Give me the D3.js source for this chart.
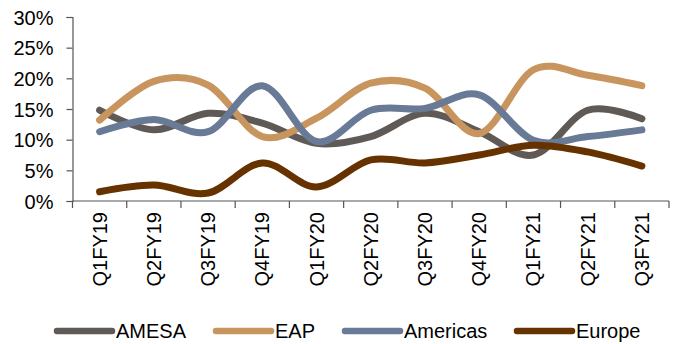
<!DOCTYPE html>
<html><head><meta charset="utf-8">
<script src="https://cdn.jsdelivr.net/npm/d3@7/dist/d3.min.js"></script>
<style>body{margin:0;background:#fff}svg{display:block}text{font-family:"Liberation Sans",Arial,sans-serif}</style>
</head><body><svg id="c" width="683" height="344"></svg>
<script>
const categories = ["Q1FY19","Q2FY19","Q3FY19","Q4FY19","Q1FY20","Q2FY20","Q3FY20","Q4FY20","Q1FY21","Q2FY21","Q3FY21"];
const amesa    = [14.8, 11.6, 14.3, 12.7, 9.4, 10.5, 14.3, 11.3, 7.5, 14.8, 13.4];
const eap      = [13.2, 19.5, 18.9, 10.5, 13.5, 19.2, 18.4, 11.0, 21.4, 20.5, 18.8];
const americas = [11.3, 13.3, 11.3, 18.8, 9.7, 14.8, 15.1, 17.3, 9.9, 10.5, 11.6];
const europe   = [1.5, 2.6, 1.3, 6.2, 2.3, 6.7, 6.2, 7.5, 9.1, 8.0, 5.7];
const seriesNames = ["AMESA","EAP","Americas","Europe"];
const yTicks = [0,5,10,15,20,25,30];

const colors = ["#605a56","#c9955f","#687a96","#663300"];
const seriesData = [amesa, eap, americas, europe];

const svg = d3.select("#c");
const x = d3.scalePoint().domain(categories).range([72.5, 669]).padding(0.5);
const y = d3.scaleLinear().domain([0,30]).range([201,17]);

// Y axis
const yAxis = svg.append("g").attr("transform","translate(72.5,0)")
  .call(d3.axisLeft(y).tickValues(yTicks).tickFormat(d=>d+"%").tickSize(6).tickPadding(13));
yAxis.selectAll("text").attr("font-size",20).attr("fill","#000").attr("dy","0.35em");
yAxis.selectAll("line,path").attr("stroke","#555").attr("stroke-width",1.2);

// X axis with band ticks
const step = x.step();
const xAxisG = svg.append("g").attr("transform","translate(0,201)");
xAxisG.append("line").attr("x1",72.5).attr("x2",669).attr("stroke","#555").attr("stroke-width",1.2);
const bounds = d3.range(categories.length+1).map(i=>72.5+i*step);
xAxisG.selectAll("line.t").data(bounds).join("line").attr("class","t")
  .attr("x1",d=>d).attr("x2",d=>d).attr("y1",0).attr("y2",7).attr("stroke","#555").attr("stroke-width",1.2);
xAxisG.selectAll("text").data(categories).join("text")
  .attr("transform",d=>`translate(${x(d)},11) rotate(-90)`)
  .attr("text-anchor","end").attr("dy","0.35em").attr("font-size",20).attr("fill","#000")
  .text(d=>d);

// Lines
const line = d3.line().x((d,i)=>x(categories[i])).y(d=>y(d)).curve(d3.curveCardinal.tension(0));
svg.append("g").selectAll("path").data(seriesData).join("path")
  .attr("d",d=>line(d)).attr("fill","none")
  .attr("stroke",(d,i)=>colors[i]).attr("stroke-width",7).attr("stroke-linecap","round").attr("stroke-linejoin","round");

// Legend
const legendX = [57, 216, 345, 517];
const lg = svg.append("g");
seriesNames.forEach((n,i)=>{
  lg.append("line").attr("x1",legendX[i]).attr("x2",legendX[i]+55).attr("y1",331).attr("y2",331)
    .attr("stroke",colors[i]).attr("stroke-width",6.5).attr("stroke-linecap","round");
  lg.append("text").attr("x",legendX[i]+59).attr("y",331).attr("dy","0.35em")
    .attr("font-size",20).attr("fill","#000").text(n);
});
</script></body></html>
